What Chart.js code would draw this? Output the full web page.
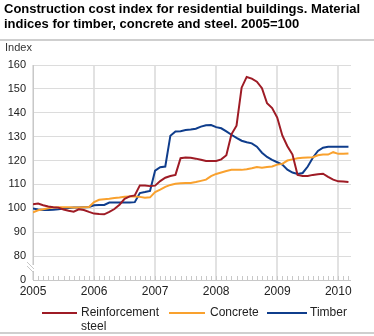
<!DOCTYPE html>
<html>
<head>
<meta charset="utf-8">
<script src="https://cdn.jsdelivr.net/npm/chart.js@4.4.1/dist/chart.umd.min.js"></script>
<style>
  body { margin: 0; width: 374px; height: 336px; overflow: hidden; background: #fff;
         font-family: "Liberation Sans", Arial, sans-serif; position: relative; }
  #chart { position: absolute; left: 0; top: 0; }
  #title { position: absolute; left: 4px; top: 1px; font-weight: bold; font-size: 13px;
           line-height: 15px; color: #000; white-space: nowrap; }
  .rule { position: absolute; left: 0; width: 374px; height: 2px; background: #cfcfcf; }
  #unit { position: absolute; left: 5px; top: 41px; font-size: 11px; color: #333; }
  .key { position: absolute; height: 2px; top: 312px; }
  .lbl { position: absolute; top: 305px; font-size: 12px; line-height: 14px; color: #222; }
</style>
</head>
<body>
<canvas id="chart" width="374" height="336"></canvas>
<div id="title">Construction cost index for residential buildings. Material<br>indices for timber, concrete and steel. 2005=100</div>
<div class="rule" style="top:39px"></div>
<div id="unit">Index</div>
<div class="key" style="left:42px;width:35px;background:#9e1b25"></div>
<div class="lbl" style="left:81px">Reinforcement<br>steel</div>
<div class="key" style="left:169px;width:36px;background:#f9a12e"></div>
<div class="lbl" style="left:210px">Concrete</div>
<div class="key" style="left:267px;width:40px;background:#0f3d8c"></div>
<div class="lbl" style="left:310px">Timber</div>
<div class="rule" style="top:332px"></div>
<script>
// Monthly observations, Jan 2005 - Mar 2010
const months = [
  '2005M01','2005M02','2005M03','2005M04','2005M05','2005M06','2005M07','2005M08','2005M09','2005M10','2005M11','2005M12',
  '2006M01','2006M02','2006M03','2006M04','2006M05','2006M06','2006M07','2006M08','2006M09','2006M10','2006M11','2006M12',
  '2007M01','2007M02','2007M03','2007M04','2007M05','2007M06','2007M07','2007M08','2007M09','2007M10','2007M11','2007M12',
  '2008M01','2008M02','2008M03','2008M04','2008M05','2008M06','2008M07','2008M08','2008M09','2008M10','2008M11','2008M12',
  '2009M01','2009M02','2009M03','2009M04','2009M05','2009M06','2009M07','2009M08','2009M09','2009M10','2009M11','2009M12',
  '2010M01','2010M02','2010M03'
];

const steel = [
  101.7, 102.0, 101.3, 100.8, 100.5, 100.3, 99.5, 99.0, 98.6, 99.6, 99.3, 98.5,
  97.8, 97.6, 97.5, 98.5, 99.7, 101.5, 104.0, 105.0, 105.4, 109.6, 109.6, 109.3,
  109.5, 111.4, 112.8, 113.5, 114.0, 121.0, 121.3, 121.2, 120.8, 120.3, 119.8, 119.8,
  119.8, 120.5, 122.2, 131.0, 134.6, 150.5, 155.0, 154.3, 153.0, 150.3, 144.0, 142.0,
  138.0, 130.5, 126.0, 122.5, 114.0, 113.5, 113.5, 114.0, 114.3, 114.5, 113.2, 112.0,
  111.3, 111.2, 111.0
];

const concrete = [
  98.3, 99.2, 99.6, 100.0, 100.4, 100.5, 100.5, 100.5, 100.3, 100.3, 100.5, 100.6,
  102.6, 103.6, 103.8, 104.0, 104.3, 104.5, 104.8, 105.0, 105.0, 104.8, 104.4, 104.6,
  106.8, 107.8, 109.0, 109.8, 110.3, 110.5, 110.6, 110.6, 111.0, 111.5, 112.0, 113.5,
  114.4, 115.0, 115.6, 116.1, 116.1, 116.1, 116.4, 116.8, 117.3, 117.0, 117.3, 117.5,
  118.3, 118.6, 120.0, 120.5, 121.0, 121.2, 121.3, 121.4, 122.2, 122.5, 122.5, 123.5,
  122.8, 122.9, 123.0
];

const timber = [
  99.9, 99.5, 99.3, 99.3, 99.4, 99.6, 99.9, 100.1, 100.3, 100.4, 100.5, 100.6,
  101.3, 101.4, 101.4, 102.4, 102.4, 102.4, 102.4, 102.4, 102.6, 106.4, 106.8, 107.3,
  115.8, 117.2, 117.5, 130.4, 132.2, 132.3, 132.8, 133.0, 133.3, 134.2, 134.8, 134.9,
  134.0, 133.5, 132.2, 130.8, 129.5, 128.3, 127.7, 127.2, 125.8, 123.3, 121.5, 120.3,
  119.3, 118.3, 116.2, 115.0, 114.4, 114.8, 117.5, 121.2, 124.0, 125.4, 125.8, 125.8,
  125.8, 125.8, 125.8
];

// y axis is broken: the "0" tick sits one step below 80
const yTicks = [0, 80, 90, 100, 110, 120, 130, 140, 150, 160];
const yFloor = 70;

const axisGrey = '#c8c8c8';

const toPoints = vals => vals.map((v, i) => ({ x: i, y: v }));

// month ticks along the base line and the break mark on the y axis
const axisMarks = {
  id: 'axisMarks',
  afterDraw(chart) {
    const { ctx, chartArea, scales } = chart;
    const x = scales.x, y = scales.y;
    ctx.save();
    ctx.strokeStyle = axisGrey;
    ctx.lineWidth = 1;
    months.forEach((m, i) => {
      const px = Math.round(x.getPixelForValue(i)) + 0.5;
      ctx.beginPath();
      ctx.moveTo(px, chartArea.bottom);
      ctx.lineTo(px, chartArea.bottom - 4);
      ctx.stroke();
    });
    const yb = Math.round(y.getPixelForValue((yFloor + yTicks[1]) / 2));
    const lx = chartArea.left;
    ctx.fillStyle = '#fff';
    ctx.fillRect(lx - 2, yb - 3, 5, 6);
    ctx.beginPath();
    ctx.moveTo(lx - 6, yb - 6); ctx.lineTo(lx + 1, yb + 1);
    ctx.moveTo(lx - 6, yb - 2); ctx.lineTo(lx + 1, yb + 5);
    ctx.stroke();
    ctx.restore();
  }
};

new Chart(document.getElementById('chart'), {
  type: 'line',
  data: {
    datasets: [
      { label: 'Reinforcement steel', data: toPoints(steel), borderColor: '#9e1b25' },
      { label: 'Concrete', data: toPoints(concrete), borderColor: '#f9a12e' },
      { label: 'Timber', data: toPoints(timber), borderColor: '#0f3d8c' }
    ]
  },
  options: {
    responsive: false,
    animation: false,
    devicePixelRatio: 1,
    layout: { padding: { top: 65, right: 23, bottom: 31, left: 0 } },
    elements: {
      line: { borderWidth: 2, tension: 0 },
      point: { radius: 0 }
    },
    plugins: { legend: { display: false }, tooltip: { enabled: false } },
    scales: {
      x: {
        type: 'linear',
        min: 0,
        max: months.length - 0.5,
        afterBuildTicks: s => {
          s.ticks = months.map((m, i) => ({ value: i })).filter(t => months[t.value].endsWith('M01'));
        },
        afterFit: s => { s.height = 25; },
        ticks: {
          autoSkip: false,
          maxRotation: 0,
          padding: 4,
          color: '#222',
          font: { family: 'Liberation Sans', size: 12 },
          callback: v => months[v].slice(0, 4)
        },
        grid: { color: '#e2e2e2', lineWidth: 2, drawTicks: false },
        border: { display: false }
      },
      y: {
        min: yFloor,
        max: 160,
        afterBuildTicks: s => {
          s.ticks = yTicks.map((t, i) => ({ value: i === 0 ? yFloor : t }));
        },
        afterFit: s => { s.width = 33; },
        ticks: {
          padding: 7,
          color: '#222',
          font: { family: 'Liberation Sans', size: 11 },
          callback: (v, i) => String(yTicks[i])
        },
        grid: { color: c => c.index === 0 ? axisGrey : '#dcdcdc', lineWidth: 1, drawTicks: false },
        border: { color: axisGrey }
      }
    }
  },
  plugins: [axisMarks]
});
</script>
</body>
</html>
